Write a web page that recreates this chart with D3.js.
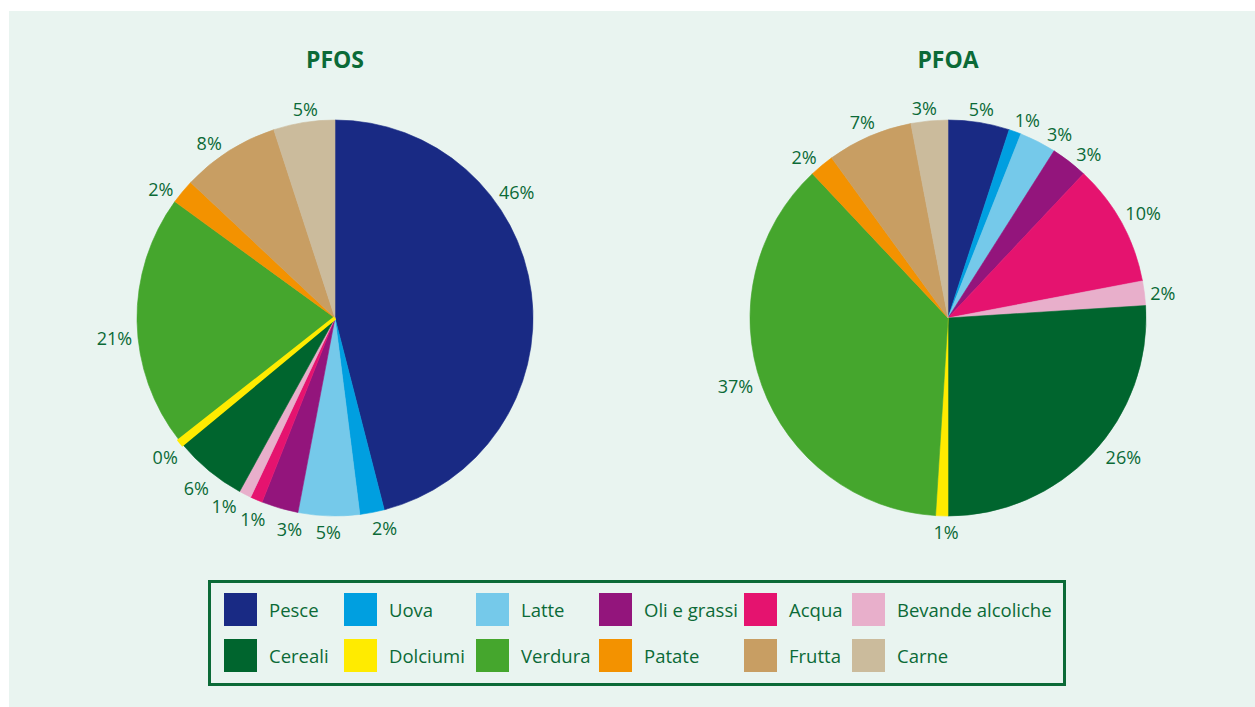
<!DOCTYPE html>
<html>
<head>
<meta charset="utf-8">
<script src="https://cdn.jsdelivr.net/npm/d3@7"></script>
<style>
  html, body { margin: 0; padding: 0; background: #fff; }
  svg { display: block; font-family: "Open Sans", sans-serif; }
</style>
</head>
<body>
<div id="chart"></div>
<script>
const width = 1255;
const height = 707;

// categories, in pie order (clockwise from 12 o'clock)
const categories = ["Pesce", "Uova", "Latte", "Oli e grassi", "Acqua", "Bevande alcoliche",
                    "Cereali", "Dolciumi", "Verdura", "Patate", "Frutta", "Carne"];
const colors = ["#192a84", "#009fe0", "#75c9ea", "#93157c", "#e5136f", "#e8afcb",
                "#00652e", "#ffeb00", "#45a62d", "#f39200", "#c89e63", "#cbbb9c"];

// percentage shares
const pfosValues = [46, 2, 5, 3, 1, 1, 6, 0.4, 20.6, 2, 8, 5];
const pfoaValues = [5, 1, 3, 3, 10, 2, 26, 1, 37, 2, 7, 3];

const titles = ["PFOS", "PFOA"];

const textColor = "#0b6a37";
const bg = "#e9f4f0";
const radius = 198;

const svg = d3.select("#chart").append("svg").attr("width", width).attr("height", height);
svg.append("rect").attr("x", 9).attr("y", 11).attr("width", width - 9).attr("height", height - 11).attr("fill", bg);

const pie = d3.pie().sort(null).value(d => d.value);
const arc = d3.arc().innerRadius(0).outerRadius(radius);

// labels were spread by hand in the original (degrees off the slice middle)
const labelNudge = {
  "PFOS-Pesce": -28, "PFOS-Uova": -2.6, "PFOS-Oli e grassi": -3.9, "PFOS-Acqua": -1,
  "PFOS-Bevande alcoliche": 3.8, "PFOS-Verdura": -3.5, "PFOS-Patate": -2.6, "PFOS-Frutta": -3, "PFOS-Carne": 1,
  "PFOA-Uova": 1.8, "PFOA-Latte": 4, "PFOA-Oli e grassi": 2.5,
  "PFOA-Cereali": -5.3, "PFOA-Dolciumi": -1.3, "PFOA-Verdura": 2.6, "PFOA-Patate": -1.8,
  "PFOA-Carne": -1
};

function drawPie(cx, title, values) {
  const g = svg.append("g").attr("transform", `translate(${cx},318)`);
  const data = categories.map((c, i) => ({ cat: c, value: values[i], color: colors[i] }));
  const arcs = pie(data);

  svg.append("text")
    .attr("x", cx).attr("y", 68)
    .attr("text-anchor", "middle")
    .style("font-size", "23px").style("font-weight", "bold")
    .attr("fill", textColor)
    .text(title);

  g.selectAll("path.slice")
    .data(arcs)
    .join("path")
    .attr("class", "slice")
    .attr("fill", d => d.data.color)
    .attr("stroke", d => d.data.color)
    .attr("stroke-width", 0.6)
    .attr("d", arc);

  // tiny slices get a minimum visible width
  g.selectAll("path.thin")
    .data(arcs.filter(d => d.data.value < 1))
    .join("path")
    .attr("class", "thin")
    .attr("fill", d => d.data.color)
    .attr("stroke", d => d.data.color)
    .attr("stroke-width", 3.5)
    .attr("d", arc);

  const labels = g.selectAll("text.lab")
    .data(arcs)
    .join("text")
    .attr("class", "lab")
    .attr("text-anchor", "middle")
    .attr("dy", "0.5em")
    .style("font-size", "18px")
    .attr("fill", textColor)
    .text(d => Math.round(d.data.value) + "%");

  labels.each(function(d) {
    const w = this.getComputedTextLength();
    const h = 17;
    let a = (d.startAngle + d.endAngle) / 2;
    const nudge = labelNudge[title + "-" + d.data.cat];
    if (nudge) a += nudge * Math.PI / 180;
    const sx = Math.sin(a), cy = -Math.cos(a);
    const ext = Math.abs(sx) * w / 2 + Math.abs(cy) * h / 2;
    const r = radius + 5 + ext;
    d3.select(this).attr("x", sx * r).attr("y", cy * r);
  });
}

drawPie(335, titles[0], pfosValues);
drawPie(948, titles[1], pfoaValues);

// legend
const legend = svg.append("g");
legend.append("rect")
  .attr("x", 209.5).attr("y", 581.5).attr("width", 855).attr("height", 103)
  .attr("fill", "none").attr("stroke", "#0b6a37").attr("stroke-width", 3);

const nCols = 6;
const colX = [224, 344, 476, 599, 744, 852];
const sw = 33;
for (let c = 0; c < nCols; c++) {
  for (let r = 0; r < 2; r++) {
    const i = r * nCols + c;
    const y = 593 + r * 46;
    legend.append("rect").attr("x", colX[c]).attr("y", y).attr("width", sw).attr("height", sw).attr("fill", colors[i]);
    legend.append("text")
      .attr("x", colX[c] + sw + 12).attr("y", y + sw / 2)
      .attr("dy", "0.4em")
      .style("font-size", "18.5px")
      .attr("fill", textColor)
      .text(categories[i]);
  }
}
</script>
</body>
</html>
